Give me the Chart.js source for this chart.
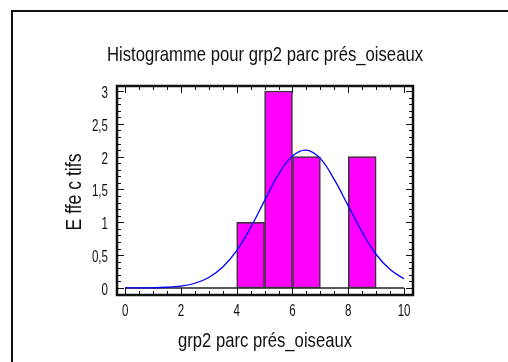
<!DOCTYPE html>
<html lang="fr">
<head>
	<meta charset="UTF-8">
	<script src="https://cdn.jsdelivr.net/npm/chart.js"></script>
	<title>Histogramme pour grp2 parc prés_oiseaux</title>
	<style>
		body { margin: 0; background: #fff; overflow: hidden; }
		#zone { position: absolute; left: 0; top: 0; width: 508px; height: 362px; }
	</style>
</head>
<body>
	<div id="zone"><canvas id="histo" width="508" height="362"></canvas></div>
	<script type="text/javascript">
		// Classes de l'histogramme (bornes inférieures, largeur 1) et effectifs
		const binStarts = [4, 5, 6, 8];
		const binCounts = [1, 3, 2, 2];
		// Courbe normale ajustée, lue point par point
		const curveX = [0, 0.5, 1, 1.5, 2, 2.5, 3, 3.5, 4, 4.5, 5, 5.5, 6, 6.5, 7, 7.5, 8, 8.5, 9, 9.5, 10];
		const curveY = [0.0003, 0.001, 0.003, 0.011, 0.029, 0.072, 0.16, 0.32, 0.57, 0.92, 1.33, 1.73, 2.01, 2.1, 1.97, 1.65, 1.25, 0.85, 0.51, 0.28, 0.14];
		// Graduations
		const xTickValues = [0, 2, 4, 6, 8, 10];
		const xTickLabels = ['0', '2', '4', '6', '8', '10'];
		const yTickValues = [0, 0.5, 1, 1.5, 2, 2.5, 3];
		const yTickLabels = ['0', '0,5', '1', '1,5', '2', '2,5', '3'];

		const titre = 'Histogramme pour grp2 parc prés_oiseaux';
		const titreX = 'grp2 parc prés_oiseaux';
		const titreY = 'E ffe c tifs';
		const police = '"Liberation Sans", Arial, sans-serif';

		// texte étroit : police Arial compressée horizontalement
		function texteEtroit(c, txt, x, y, taille, serre, align) {
			c.save();
			c.translate(x, y);
			c.scale(serre, 1);
			c.font = taille + 'px ' + police;
			c.textAlign = align;
			c.textBaseline = 'alphabetic';
			c.fillText(txt, 0, 0);
			c.restore();
		}

		// Cadre, graduations intérieures et textes
		const cadre = {
			id: 'cadre',
			beforeDraw(chart) {
				const ctx = chart.ctx;
				ctx.save();
				ctx.fillStyle = '#fff';
				ctx.fillRect(0, 0, chart.width, chart.height);
				ctx.fillStyle = '#111';
				ctx.fillRect(11, 10, 2, chart.height - 10);
				ctx.fillRect(11, 10, chart.width - 11, 2);
				ctx.restore();
			},
			beforeDatasetsDraw(chart) {
				const {ctx, scales: {x, y}} = chart;
				ctx.save();
				ctx.strokeStyle = '#222';
				ctx.lineWidth = 1.5;
				ctx.beginPath();
				ctx.moveTo(x.getPixelForValue(0), y.getPixelForValue(0));
				ctx.lineTo(x.getPixelForValue(10), y.getPixelForValue(0));
				ctx.stroke();
				ctx.restore();
			},
			afterDraw(chart) {
				const {ctx, chartArea: a, scales: {x, y}} = chart;
				ctx.save();
				ctx.strokeStyle = '#111';
				ctx.lineWidth = 1;
				ctx.beginPath();
				// graduations Y (majeures tous les 0,5, mineures tous les 0,1)
				for (let i = 0; i <= 30; i++) {
					const py = Math.round(y.getPixelForValue(i / 10)) + 0.5;
					const len = (i % 5 === 0) ? 7 : 4;
					ctx.moveTo(a.left, py); ctx.lineTo(a.left + len, py);
					ctx.moveTo(a.right, py); ctx.lineTo(a.right - len, py);
				}
				// graduations X (majeures tous les 2, mineures tous les 0,5)
				for (let i = 0; i <= 20; i++) {
					const px = Math.round(x.getPixelForValue(i / 2)) + 0.5;
					const len = (i % 4 === 0) ? 7 : 4;
					ctx.moveTo(px, a.bottom); ctx.lineTo(px, a.bottom - len);
					ctx.moveTo(px, a.top); ctx.lineTo(px, a.top + len);
				}
				ctx.stroke();
				ctx.lineWidth = 2.5;
				ctx.strokeRect(a.left, a.top, a.right - a.left, a.bottom - a.top);

				ctx.fillStyle = '#111';
				// étiquettes des graduations
				yTickValues.forEach((v, i) => {
					texteEtroit(ctx, yTickLabels[i], a.left - 9, y.getPixelForValue(v) + 7, 17, 0.68, 'right');
				});
				xTickValues.forEach((v, i) => {
					texteEtroit(ctx, xTickLabels[i], x.getPixelForValue(v), a.bottom + 21, 17, 0.68, 'center');
				});
				// titres
				texteEtroit(ctx, titre, 265, 61, 21, 0.794, 'center');
				texteEtroit(ctx, titreX, 265, 347, 21, 0.793, 'center');
				ctx.translate(81, 192);
				ctx.rotate(-Math.PI / 2);
				texteEtroit(ctx, titreY, 0, 0, 22, 0.8, 'center');
				ctx.restore();
			}
		};

		const ctx = document.getElementById('histo').getContext('2d');
		const histo = new Chart(ctx, {
			type: 'bar',
			data: {
				datasets: [{
					type: 'line',
					data: curveX.map((v, i) => ({x: v, y: curveY[i]})),
					borderColor: '#0000ff',
					borderWidth: 1.3,
					pointRadius: 0,
					tension: 0.4,
					fill: false,
					order: 0
				}, {
					type: 'bar',
					data: binStarts.map((v, i) => ({x: v + 0.5, y: binCounts[i]})),
					backgroundColor: '#ff00ff',
					borderColor: '#333333',
					borderWidth: 1.5,
					borderSkipped: false,
					barPercentage: 1,
					categoryPercentage: 1,
					order: 1
				}]
			},
			options: {
				responsive: false,
				animation: false,
				devicePixelRatio: 1,
				layout: { padding: { left: 0, top: 86, right: 95, bottom: 0 } },
				plugins: { legend: { display: false }, tooltip: { enabled: false } },
				scales: {
					x: {
						type: 'linear',
						offset: false,
						min: -0.29,
						max: 10.32,
						grid: { display: false },
						border: { display: false },
						ticks: { display: false },
						afterBuildTicks: s => { s.ticks = xTickValues.map(v => ({value: v})); },
						afterFit: s => { s.height = 67; }
					},
					y: {
						type: 'linear',
						min: -0.107,
						max: 3.076,
						grid: { display: false },
						border: { display: false },
						ticks: { display: false },
						afterBuildTicks: s => { s.ticks = yTickValues.map(v => ({value: v})); },
						afterFit: s => { s.width = 117; }
					}
				}
			},
			plugins: [cadre]
		});
	</script>
</body>
</html>
